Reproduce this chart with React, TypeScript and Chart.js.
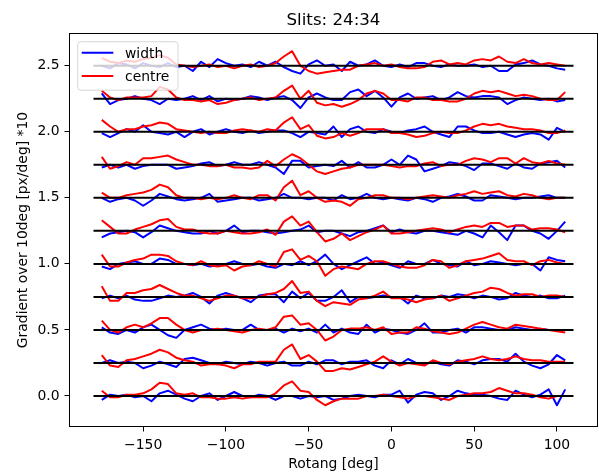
import React, { useEffect, useRef } from 'react';
import { Chart, registerables } from 'chart.js';

Chart.register(...registerables);

// Rotang sample positions (deg)
const angles = [
  -175, -170, -165, -160, -155, -150, -145, -140, -135, -130, -125, -120, -115, -110, -105, -100,
  -95, -90, -85, -80, -75, -70, -65, -60, -55, -50, -45, -40, -35, -30, -25, -20, -15, -10, -5,
  0, 5, 10, 15, 20, 25, 30, 35, 40, 45, 50, 55, 60, 65, 70, 75, 80, 85, 90, 95, 100, 105,
];

// vertical offsets of each slit row
const offsets = [0, 0.25, 0.5, 0.75, 1.0, 1.25, 1.5, 1.75, 2.0, 2.25, 2.5];
// extent of black reference lines
const refLineX = [-180, 110];

const xTicks = [-150, -100, -50, 0, 50, 100];
const yTicks = [0, 0.5, 1.0, 1.5, 2.0, 2.5];

// deviations from row offset, in units of 0.01
const width0 = [-3,1,0,1,-1,0,-4,2,4,1,-2,-4,0,2,-3,0,3,0,-1,1,0,-3,0,0,-2,0,-1,0,-3,-2,0,1,0,-1,1,1,4,-5,1,3,2,-3,0,4,2,1,1,0,-2,-3,4,1,-1,1,5,-7,5];
const centre0 = [4,-1,-1,1,1,2,5,10,9,2,1,2,-1,-1,-2,-2,-1,-2,-1,-1,-1,2,8,11,4,3,-3,-7,-4,-2,-2,-2,0,0,1,0,-1,-2,0,0,-1,-2,-3,0,1,2,2,3,6,4,2,2,1,-1,-2,0,0];
const width25 = [0,2,0,1,0,-4,-2,1,-1,-3,3,4,2,0,-1,1,0,-1,1,0,-2,0,1,-2,-2,1,-1,2,2,-1,1,1,2,-2,-4,2,-1,3,0,-1,1,-1,-2,2,1,-1,2,3,3,1,7,1,-2,-4,-1,6,2];
const centre25 = [6,-2,-3,2,3,5,7,10,8,4,2,1,-2,-1,-1,-2,-4,-1,-1,1,1,1,10,14,3,6,1,-6,-6,-4,-5,-3,-1,1,5,1,-2,0,-1,-2,2,0,-1,1,2,3,5,3,2,3,5,3,2,2,1,1,1];
const width50 = [2,-2,-3,0,-2,2,4,0,-4,-6,0,2,4,1,0,1,0,0,4,0,0,1,-2,1,-1,1,-2,4,-2,1,-2,-3,4,-2,1,0,-2,-3,0,5,-2,-2,0,1,-2,2,2,1,0,0,2,1,0,1,0,0,0];
const centre50 = [7,0,-2,2,4,2,5,9,9,4,0,-2,0,0,1,0,-1,-2,0,1,0,2,10,11,4,5,0,-8,-5,0,1,1,2,0,2,-3,-2,-2,2,1,-1,-2,-3,-2,1,4,6,4,2,1,4,3,2,1,0,-1,-2];
const width75 = [-1,1,-1,1,-2,-3,-3,-1,1,0,1,3,0,-5,1,3,1,-1,-4,1,2,2,-4,4,-1,3,-3,-3,0,5,-4,0,-1,0,1,0,0,-5,1,-1,-1,1,0,2,1,-1,1,0,-2,-1,3,1,0,1,-1,-1,1];
const centre75 = [8,-3,-3,3,3,5,6,9,6,3,1,1,-1,-3,-1,1,1,-1,-1,0,2,3,6,12,3,4,-3,-7,-4,-5,-6,-2,-1,1,4,-1,-1,-2,-4,-2,-1,1,-3,-1,1,3,4,7,6,3,1,2,2,0,1,1,0];
const width100 = [-2,-4,0,1,2,0,0,4,3,0,0,-1,0,-2,-1,0,2,0,-1,0,-2,-3,0,-1,2,-1,2,7,0,-4,-1,2,5,0,1,-1,-3,2,0,0,3,0,-1,-2,2,-1,0,2,1,0,-1,0,0,-5,5,3,2];
const centre100 = [7,-2,-2,1,3,4,7,7,6,2,0,-1,2,-1,-2,-1,-5,-2,-1,2,0,-2,9,11,3,6,2,-9,-4,-2,-3,-4,0,2,2,0,-2,-3,-3,-1,3,2,-3,-1,2,3,4,6,8,3,2,2,-1,2,3,1,0];
const width125 = [-5,-2,-1,0,-1,-5,-1,4,2,0,-1,-2,-2,0,-2,0,4,-1,0,0,-1,-2,-1,0,1,4,-1,0,0,-2,-4,-1,0,2,4,-1,1,-1,-2,0,0,-1,-2,-3,0,-2,-5,4,-1,-7,4,4,0,-2,-6,0,7];
const centre125 = [8,3,-2,-2,1,3,5,8,9,3,1,1,-1,-2,-2,0,-1,-2,-2,-1,1,-3,7,11,4,7,-1,-8,-6,-2,-7,-4,-1,1,4,-2,-2,-1,0,1,2,1,-1,1,3,4,3,6,6,3,4,4,1,2,2,1,-1];
const width150 = [0,-3,-1,0,-2,-6,-2,3,1,-1,-2,-1,0,3,-3,-2,-1,0,0,-2,-1,0,3,0,0,-1,0,0,-2,2,-1,0,3,0,-1,0,-1,-2,0,-1,-3,0,1,3,1,-2,-2,2,1,0,-1,0,0,1,2,0,0];
const centre150 = [4,0,0,2,3,4,6,10,8,2,0,0,-1,0,-1,0,2,0,-1,2,2,-2,8,13,2,5,0,-3,-2,-3,-6,-1,0,2,2,0,0,-1,0,1,2,1,0,2,3,5,3,4,5,2,1,3,2,0,-1,0,0];
const width175 = [-2,0,-2,0,-3,-1,0,0,0,-3,-2,-1,1,2,-1,0,2,0,0,2,0,-2,-7,3,3,-2,-1,0,-1,3,-2,2,-2,-2,0,4,0,7,4,-5,-3,-1,2,1,-1,-4,1,1,-1,-3,1,-2,-3,1,2,3,-2];
const centre175 = [6,-3,-1,2,0,5,5,6,7,4,2,0,0,-1,-1,0,-2,-2,-3,-2,3,-1,4,8,5,0,-5,-7,-5,-3,-2,0,0,0,0,-1,-2,-1,-1,1,2,-1,0,0,3,5,4,2,5,5,1,5,2,1,3,1,0];
const width200 = [-1,-4,-1,2,0,5,0,-1,-2,0,-4,0,2,-2,0,2,0,-1,1,-1,0,1,1,-1,-4,0,-1,-2,4,-4,2,4,0,-1,2,0,-1,1,2,4,0,-2,-4,4,4,1,-1,-1,0,-2,-4,-2,-1,-2,-6,3,0];
const centre200 = [9,4,0,2,2,4,5,7,6,2,1,0,-1,0,-1,-1,1,2,1,0,2,1,7,11,2,5,-3,-5,-4,-1,-3,-1,2,2,2,-1,-1,-2,-4,-3,-1,0,-1,-1,1,4,6,5,6,4,3,2,2,1,-1,-1,1];
const width225 = [4,-4,-1,0,2,0,-1,-4,0,-1,0,2,-1,2,-2,0,-1,0,2,1,-1,1,2,-1,-7,1,4,1,-1,-1,5,7,2,6,1,-6,1,4,0,1,2,-1,1,5,2,1,2,2,1,-4,-1,1,0,-1,0,-2,-1];
const centre225 = [6,1,-1,1,1,1,2,9,7,1,-1,-1,-2,-1,-4,-3,-1,0,1,-1,0,1,6,10,0,6,-3,-5,-4,-6,-4,-1,4,6,4,-1,-1,-2,1,1,-1,-1,-2,-2,0,4,6,5,6,4,2,3,2,0,-1,-1,5];
const width250 = [0,-2,2,1,-2,2,0,-1,2,-1,0,-4,3,-1,5,2,0,1,-1,3,0,3,-1,-4,-6,1,4,0,1,-4,3,0,1,4,0,-1,1,-1,2,2,0,-1,1,0,0,1,-1,0,-4,-4,1,2,4,1,0,-2,-3];
const centre250 = [6,3,2,4,3,5,6,8,6,1,0,-1,0,1,-1,0,-2,0,1,-1,0,2,7,11,0,-4,-6,-5,-4,-3,-3,0,1,2,0,1,-1,-2,-2,-1,3,4,1,2,1,4,5,4,7,3,2,5,2,1,2,1,0];

const widthRows = [width0, width25, width50, width75, width100, width125, width150, width175, width200, width225, width250];
const centreRows = [centre0, centre25, centre50, centre75, centre100, centre125, centre150, centre175, centre200, centre225, centre250];

const FONT = 'DejaVu Sans';

function fmtX(v: number) {
  const s = String(Math.abs(v));
  return v < 0 ? '\u2212' + s : s;
}

const decor = {
  id: 'decor',
  afterDraw(chart: any) {
    const { ctx, chartArea: a } = chart;
    ctx.save();
    // spines
    ctx.strokeStyle = '#000';
    ctx.lineWidth = 1;
    ctx.strokeRect(a.left, a.top, a.right - a.left, a.bottom - a.top);

    // title
    ctx.fillStyle = '#000';
    ctx.font = `16.67px "${FONT}"`;
    ctx.textAlign = 'center';
    ctx.textBaseline = 'alphabetic';
    ctx.fillText('Slits: 24:34', (a.left + a.right) / 2, 24.5);

    // axis labels
    ctx.font = `13.9px "${FONT}"`;
    ctx.fillText('Rotang [deg]', (a.left + a.right) / 2, 468.3);
    ctx.save();
    ctx.translate(26.5, (a.top + a.bottom) / 2);
    ctx.rotate(-Math.PI / 2);
    ctx.fillText('Gradient over 10deg [px/deg] *10', 0, 0);
    ctx.restore();

    // legend
    const lx = 77.7, ly = 41.7, lw = 100.3, lh = 48.5, r = 3;
    ctx.save();
    ctx.globalAlpha = 0.8;
    ctx.beginPath();
    ctx.moveTo(lx + r, ly);
    ctx.lineTo(lx + lw - r, ly);
    ctx.arcTo(lx + lw, ly, lx + lw, ly + r, r);
    ctx.lineTo(lx + lw, ly + lh - r);
    ctx.arcTo(lx + lw, ly + lh, lx + lw - r, ly + lh, r);
    ctx.lineTo(lx + r, ly + lh);
    ctx.arcTo(lx, ly + lh, lx, ly + lh - r, r);
    ctx.lineTo(lx, ly + r);
    ctx.arcTo(lx, ly, lx + r, ly, r);
    ctx.closePath();
    ctx.fillStyle = '#ffffff';
    ctx.fill();
    ctx.strokeStyle = '#cccccc';
    ctx.lineWidth = 1;
    ctx.stroke();
    ctx.restore();

    const entries = [
      { label: 'width', color: '#0000ff', y: 52.7 },
      { label: 'centre', color: '#ff0000', y: 76.0 },
    ];
    entries.forEach((e) => {
      ctx.strokeStyle = e.color;
      ctx.lineWidth = 2;
      ctx.beginPath();
      ctx.moveTo(81.7, e.y);
      ctx.lineTo(113.3, e.y);
      ctx.stroke();
      ctx.fillStyle = '#000';
      ctx.textAlign = 'left';
      ctx.font = `13.9px "${FONT}"`;
      ctx.fillText(e.label, 125, e.y + 5);
    });
    ctx.restore();
  },
};

export default function App() {
  const ref = useRef<HTMLCanvasElement>(null);

  useEffect(() => {
    const canvas = ref.current;
    if (!canvas) return;
    const datasets: any[] = [];
    offsets.forEach((off, r) => {
      datasets.push({
        label: 'width',
        data: angles.map((a, i) => ({ x: a, y: off + widthRows[r][i] / 100 })),
        borderColor: '#0000ff',
        backgroundColor: '#0000ff',
        borderWidth: 2,
        pointRadius: 0,
        borderJoinStyle: 'round',
        order: 2,
      });
      datasets.push({
        label: 'centre',
        data: angles.map((a, i) => ({ x: a, y: off + centreRows[r][i] / 100 })),
        borderColor: '#ff0000',
        backgroundColor: '#ff0000',
        borderWidth: 2,
        pointRadius: 0,
        borderJoinStyle: 'round',
        order: 1,
      });
      datasets.push({
        label: 'ref',
        data: refLineX.map((x) => ({ x, y: off })),
        borderColor: '#000000',
        backgroundColor: '#000000',
        borderWidth: 2,
        pointRadius: 0,
        order: 0,
      });
    });

    const tickFont = { family: FONT, size: 13.9 };
    const chart = new Chart(canvas, {
      type: 'line',
      data: { datasets },
      options: {
        animation: false,
        responsive: false,
        devicePixelRatio: 1,
        events: [],
        layout: { padding: { left: 0, right: 1.5, top: 33.5, bottom: 0 } },
        plugins: {
          legend: { display: false },
          title: { display: false },
          tooltip: { enabled: false },
        },
        scales: {
          x: {
            type: 'linear',
            min: -194.5,
            max: 124.5,
            afterBuildTicks: (s: any) => {
              s.ticks = xTicks.map((v) => ({ value: v }));
            },
            afterFit: (s: any) => {
              s.height = 46.5;
            },
            grid: { drawOnChartArea: false, drawTicks: true, tickLength: 5, color: '#000', lineWidth: 1 },
            border: { display: false },
            ticks: {
              color: '#000',
              font: tickFont,
              padding: 6,
              maxRotation: 0,
              autoSkip: false,
              callback: (v: any) => fmtX(Number(v)),
            },
          },
          y: {
            type: 'linear',
            min: -0.231,
            max: 2.744,
            afterBuildTicks: (s: any) => {
              s.ticks = yTicks.map((v) => ({ value: v }));
            },
            afterFit: (s: any) => {
              s.width = 69.5;
            },
            grid: { drawOnChartArea: false, drawTicks: true, tickLength: 5, color: '#000', lineWidth: 1 },
            border: { display: false },
            ticks: {
              color: '#000',
              font: tickFont,
              padding: 5,
              autoSkip: false,
              callback: (v: any) => Number(v).toFixed(1),
            },
          },
        },
      } as any,
      plugins: [decor],
    });
    return () => chart.destroy();
  }, []);

  return (
    <div style={{ position: 'absolute', left: 0, top: 0, width: 599, height: 473, background: '#fff' }}>
      <canvas ref={ref} width={599} height={473} style={{ display: 'block' }} />
    </div>
  );
}
